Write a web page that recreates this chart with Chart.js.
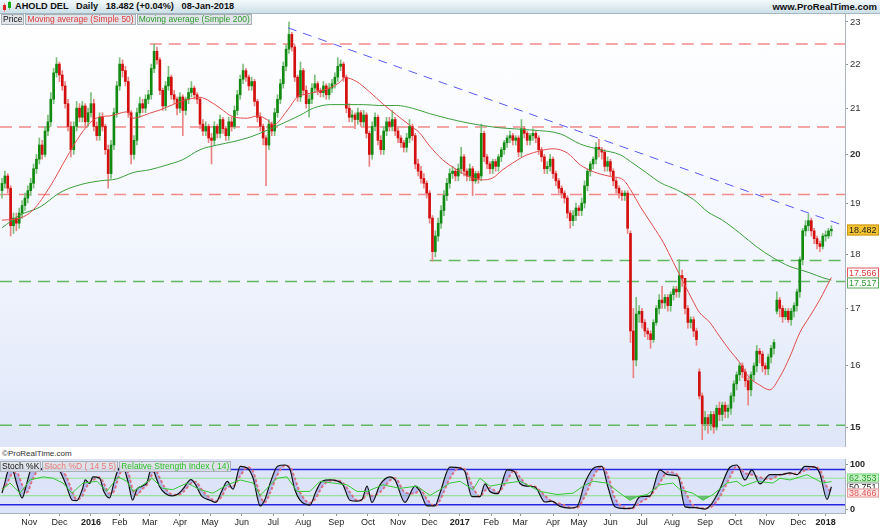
<!DOCTYPE html>
<html><head><meta charset="utf-8">
<script src="https://cdn.jsdelivr.net/npm/chart.js@4.4.1/dist/chart.umd.min.js"></script>
<style>
html,body{margin:0;padding:0}
body{width:880px;height:529px;overflow:hidden;background:#fff;position:relative;font-family:"Liberation Sans",Arial,sans-serif;color:#111}
.a{position:absolute}
#hdr{left:0;top:0;width:880px;height:13px;background:linear-gradient(#f3f9fb,#cde0e8);border-bottom:1px solid #a3b7c2}
#title{left:15px;top:1px;font-size:9.2px;font-weight:bold;line-height:11px;white-space:pre}
#site{right:3px;top:1px;font-size:9.5px;font-weight:bold;line-height:11px}
#pbg{left:0;top:14px;width:845px;height:433px;background:linear-gradient(#ffffff 0%,#f4f7fe 50%,#dee6f8 100%)}
#sbg{left:0;top:459px;width:845px;height:54px;background:#dde4f9}
.leg{position:absolute;display:flex;font-size:8.5px;line-height:9px;z-index:5}
.leg span{background:rgba(222,226,230,0.92);border:1px solid #a8b0b8;padding:0 1px;margin-right:1px;white-space:pre}
#copy{left:2px;top:449px;font-size:8px;color:#333;line-height:9px}
canvas{position:absolute;left:0}
</style></head>
<body>
<div id="hdr" class="a"></div>
<div class="a" style="left:4px;top:3px;width:1px;height:9px;background:#e88"></div>
<div class="a" style="left:3px;top:5px;width:3px;height:5px;background:#d22"></div>
<div class="a" style="left:9px;top:1px;width:1px;height:9px;background:#7c7"></div>
<div class="a" style="left:8px;top:2px;width:3px;height:6px;background:#1a1"></div>
<div id="title" class="a">AHOLD DEL   Daily   18.482 (+0.04%)   08-Jan-2018</div>
<div id="site" class="a">www.ProRealTime.com</div>
<div id="pbg" class="a"></div>
<div id="sbg" class="a"></div>
<canvas id="pc" width="880" height="433" style="top:14px"></canvas>
<canvas id="sc" width="880" height="70" style="top:459px"></canvas>
<div class="leg" style="left:1px;top:14px"><span style="color:#111">Price</span><span style="color:#e03a3a">Moving average (Simple 50)</span><span style="color:#2f9a2f">Moving average (Simple 200)</span></div>
<div id="copy" class="a">©ProRealTime.com</div>
<div class="leg" style="left:0px;top:461px"><span style="color:#111">Stoch %K</span><span style="color:#e87a7a">Stoch %D ( 14 5 5)</span><span style="color:#2bc02b">Relative Strength Index ( 14)</span></div>
<script>
const F = '"Liberation Sans", Arial, sans-serif';
const XMIN = -1.4, XMAX = 587.5;
const DAYS_PER_CANDLE = 2;

const opens = [
19.25,19.40,19.55,19.30,18.55,18.70,18.60,18.80,18.95,19.10,
19.25,19.40,19.70,19.90,20.20,20.00,20.50,20.70,21.20,21.80,
22.00,21.75,21.50,21.10,20.60,20.10,20.60,21.00,20.80,21.05,
20.70,20.90,21.10,20.60,20.40,20.80,20.60,20.10,19.60,20.20,
20.90,21.50,22.00,21.85,21.60,20.90,20.00,20.30,20.90,21.10,
21.00,21.20,21.30,21.90,22.30,22.10,21.40,21.05,21.50,21.70,
21.30,21.20,21.00,21.25,20.95,21.20,21.35,21.45,21.30,21.20,
20.65,20.50,20.60,20.35,20.30,20.60,20.45,20.75,20.55,20.40,
20.70,20.60,20.95,21.30,21.65,21.85,21.70,21.50,21.60,21.15,
20.80,20.60,20.35,20.20,20.65,20.50,20.90,21.20,21.55,21.95,
22.35,22.70,22.40,21.70,21.25,21.85,21.40,21.10,21.20,21.45,
21.55,21.40,21.35,21.50,21.30,21.45,21.55,21.70,21.95,22.00,
21.70,21.00,20.80,20.85,20.75,20.90,20.70,20.85,20.45,20.00,
20.60,20.80,20.30,20.10,20.50,20.70,20.60,20.75,20.50,20.35,
20.25,20.15,20.35,20.60,20.40,19.80,19.65,19.50,19.40,19.20,
18.70,18.05,18.35,18.60,18.85,19.15,19.40,19.60,19.65,19.55,
19.70,19.95,19.65,19.55,19.70,19.45,19.60,19.55,20.45,19.95,
19.80,19.70,19.85,19.75,19.95,20.10,20.25,20.35,20.40,20.30,
20.35,20.05,20.55,20.45,20.30,20.40,20.45,20.35,20.10,19.95,
19.70,19.75,19.90,19.60,19.45,19.30,19.20,19.10,18.80,18.65,
18.75,18.90,18.85,19.00,19.35,19.65,19.80,19.90,20.15,20.10,
20.05,19.75,19.85,19.65,19.45,19.30,19.20,19.15,19.20,18.40,
16.60,16.10,16.90,16.95,16.75,16.60,16.55,16.45,16.75,17.00,
17.15,17.10,17.20,17.05,17.25,17.35,17.30,17.60,17.55,17.00,
16.75,16.80,16.60,15.90,15.50,15.05,15.15,15.05,15.20,15.00,
15.30,15.20,15.35,15.25,15.30,15.50,15.70,15.85,16.00,15.90,
15.75,15.60,15.85,16.00,16.25,16.20,16.00,15.95,16.15,16.30,
16.95,17.15,17.00,16.85,16.95,16.80,16.95,17.05,17.30,17.90,
18.45,18.55,18.65,18.45,18.30,18.20,18.15,18.35,18.35,18.45];

const highs = [
19.50,19.65,19.60,19.35,18.80,18.80,18.90,19.05,19.20,19.35,
19.50,19.80,20.00,20.35,20.30,20.60,20.85,21.35,21.90,22.15,
22.05,21.85,21.60,21.20,20.70,20.70,21.15,21.10,21.15,21.10,
21.00,21.35,21.20,20.70,20.90,20.90,20.65,20.20,20.30,21.00,
21.60,22.15,22.10,21.95,21.70,20.95,20.40,21.00,21.25,21.20,
21.30,21.40,22.00,22.47,22.40,22.15,21.45,21.60,21.95,21.75,
21.40,21.25,21.35,21.30,21.25,21.45,21.60,21.50,21.35,21.25,
20.75,20.70,20.65,20.45,20.70,20.65,20.85,20.80,20.60,20.80,
20.80,21.05,21.40,21.75,22.00,21.90,21.75,21.70,21.65,21.20,
20.90,20.65,20.40,20.75,20.70,21.00,21.30,21.65,22.05,22.45,
23.00,22.75,22.45,21.75,22.05,21.90,21.50,21.30,21.55,21.75,
21.60,21.45,21.60,21.55,21.55,21.65,21.80,22.15,22.10,22.05,
21.75,21.10,20.95,20.90,21.00,20.95,20.95,20.90,20.50,20.70,
20.90,20.85,20.40,20.60,20.80,20.80,20.95,20.80,20.60,20.40,
20.30,20.45,20.75,20.65,20.45,19.90,19.75,19.60,19.45,19.25,
18.75,18.45,18.70,18.95,19.25,19.50,19.70,19.75,19.70,19.80,
20.15,20.00,19.70,19.80,19.75,19.65,19.65,20.65,20.50,20.00,
19.85,19.90,19.90,20.00,20.15,20.30,20.40,20.50,20.45,20.40,
20.40,20.75,20.60,20.50,20.45,20.55,20.50,20.40,20.15,20.00,
19.85,20.00,19.95,19.65,19.50,19.35,19.25,19.15,18.85,18.85,
19.00,18.95,19.10,19.45,19.70,19.85,19.95,20.25,20.32,20.15,
20.10,19.95,19.90,19.70,19.50,19.35,19.25,19.25,19.25,18.45,
17.00,17.20,17.05,17.00,16.80,16.65,16.60,16.80,17.05,17.25,
17.40,17.25,17.25,17.30,17.40,17.40,17.90,17.70,17.55,17.05,
16.85,16.85,16.65,15.95,15.55,15.25,15.20,15.25,15.25,15.35,
15.40,15.40,15.40,15.35,15.55,15.75,15.90,16.05,16.05,15.95,
15.80,15.90,16.05,16.35,16.30,16.25,16.05,16.20,16.35,16.45,
17.30,17.20,17.05,17.00,17.00,17.00,17.10,17.35,17.95,18.50,
18.65,18.78,18.70,18.50,18.35,18.25,18.40,18.45,18.50,18.55];

const lows = [
19.10,19.30,19.20,18.35,18.40,18.45,18.50,18.70,18.85,19.00,
19.15,19.30,19.60,19.80,19.90,19.95,20.40,20.60,21.10,21.70,
21.60,21.40,21.00,20.50,19.95,20.00,20.50,20.70,20.70,20.60,
20.60,20.80,20.50,20.30,20.30,20.50,20.00,19.30,19.50,20.10,
20.80,21.40,21.70,21.50,20.80,19.80,19.90,20.20,20.80,20.90,
20.90,21.10,21.20,21.80,22.00,21.30,20.95,20.95,21.40,21.20,
21.10,20.85,20.90,20.40,20.85,21.10,21.25,21.20,21.10,20.55,
20.40,20.40,20.25,19.80,20.20,20.35,20.35,20.45,20.30,20.30,
20.50,20.55,20.85,21.20,21.55,21.60,21.40,21.40,21.05,20.70,
20.50,20.20,19.35,20.10,20.40,20.40,20.80,21.10,21.45,21.85,
22.25,22.30,21.60,21.15,21.15,21.30,21.00,20.80,21.10,21.35,
21.30,21.25,21.25,21.20,21.20,21.35,21.45,21.60,21.85,21.60,
20.90,20.70,20.70,20.55,20.65,20.60,20.60,20.35,19.75,19.90,
20.50,20.20,20.00,20.00,20.40,20.50,20.50,20.40,20.25,20.15,
20.05,20.05,20.25,20.30,19.70,19.55,19.40,19.30,19.10,18.60,
17.87,17.95,18.25,18.50,18.75,19.05,19.30,19.50,19.45,19.45,
19.60,19.55,19.45,19.45,19.15,19.40,19.40,19.45,19.85,19.70,
19.60,19.60,19.65,19.65,19.85,20.00,20.15,20.25,20.20,20.20,
19.95,19.95,20.35,20.20,20.20,20.30,20.25,20.00,19.85,19.60,
19.60,19.65,19.50,19.35,19.20,19.10,19.00,18.70,18.50,18.55,
18.65,18.75,18.75,18.90,19.25,19.55,19.70,19.80,19.95,19.90,
19.65,19.65,19.55,19.35,19.20,19.10,19.05,19.05,18.40,16.40,
15.80,16.00,16.75,16.65,16.50,16.45,16.30,16.40,16.70,16.90,
17.00,17.00,16.95,16.95,17.15,17.20,17.20,17.40,16.90,16.65,
16.65,16.50,16.35,15.45,14.80,14.95,14.90,14.95,14.90,14.95,
15.10,15.10,15.15,15.15,15.20,15.40,15.60,15.75,15.80,15.65,
15.35,15.50,15.75,15.90,16.05,15.90,15.85,15.85,16.05,16.20,
16.90,16.85,16.75,16.80,16.75,16.70,16.85,16.95,17.20,17.80,
18.35,18.45,18.35,18.20,18.10,18.05,18.10,18.25,18.30,18.35];

const closes = [
19.40,19.55,19.30,18.55,18.70,18.60,18.80,18.95,19.10,19.25,
19.40,19.70,19.90,20.20,20.00,20.50,20.70,21.20,21.80,22.00,
21.75,21.50,21.10,20.60,20.10,20.60,21.00,20.80,21.05,20.70,
20.90,21.10,20.60,20.40,20.80,20.60,20.10,19.60,20.20,20.90,
21.50,22.00,21.85,21.60,20.90,20.00,20.30,20.90,21.10,21.00,
21.20,21.30,21.90,22.30,22.10,21.40,21.05,21.50,21.70,21.30,
21.20,21.00,21.25,20.95,21.20,21.35,21.45,21.30,21.20,20.65,
20.50,20.60,20.35,20.30,20.60,20.45,20.75,20.55,20.40,20.70,
20.60,20.95,21.30,21.65,21.85,21.70,21.50,21.60,21.15,20.80,
20.60,20.35,20.20,20.65,20.50,20.90,21.20,21.55,21.95,22.35,
22.70,22.40,21.70,21.25,21.85,21.40,21.10,21.20,21.45,21.55,
21.40,21.35,21.50,21.30,21.45,21.55,21.70,21.95,22.00,21.70,
21.00,20.80,20.85,20.75,20.90,20.70,20.85,20.45,20.00,20.60,
20.80,20.30,20.10,20.50,20.70,20.60,20.75,20.50,20.35,20.25,
20.15,20.35,20.60,20.40,19.80,19.65,19.50,19.40,19.20,18.70,
18.05,18.35,18.60,18.85,19.15,19.40,19.60,19.65,19.55,19.70,
19.95,19.65,19.55,19.70,19.45,19.60,19.50,20.45,19.95,19.80,
19.70,19.85,19.75,19.95,20.10,20.25,20.35,20.40,20.30,20.35,
20.05,20.55,20.45,20.30,20.40,20.45,20.35,20.10,19.95,19.70,
19.75,19.90,19.60,19.45,19.30,19.20,19.10,18.80,18.65,18.75,
18.90,18.85,19.00,19.35,19.65,19.80,19.90,20.15,20.10,20.05,
19.75,19.85,19.65,19.45,19.30,19.20,19.15,19.20,18.50,16.60,
16.10,16.90,16.95,16.75,16.60,16.55,16.45,16.75,17.00,17.15,
17.10,17.20,17.05,17.25,17.35,17.30,17.60,17.55,17.00,16.75,
16.80,16.60,16.45,15.50,15.05,15.15,15.05,15.20,15.00,15.30,
15.20,15.35,15.25,15.30,15.50,15.70,15.85,16.00,15.90,15.75,
15.60,15.85,16.00,16.25,16.20,16.00,15.95,16.15,16.30,16.40,
17.15,17.00,16.85,16.95,16.80,16.95,17.05,17.30,17.90,18.45,
18.55,18.65,18.45,18.30,18.20,18.15,18.35,18.35,18.45,18.482];

const ma50 = [[0,18.66],[12.5,18.70],[21.6,18.86],[33.4,19.33],[45.3,19.95],[52.3,20.31],[61.3,20.68],[68.3,20.81],[75.3,20.83],[82.2,20.89],[87.1,20.92],[91.3,20.78],[96.2,20.81],[103,20.89],[110,20.96],[119,21.08],[129,21.19],[138,21.24],[145,21.15],[152,21.00],[161,20.81],[171,20.78],[178,20.83],[185,20.74],[189,20.63],[199,20.96],[206,21.26],[210,21.30],[220,21.37],[229,21.46],[236,21.60],[239,21.69],[247,21.60],[256,21.37],[266,21.08],[275,20.85],[284,20.63],[291,20.46],[298,20.18],[307,19.89],[317,19.68],[326,19.53],[335,19.47],[342,19.51],[349,19.68],[356,19.82],[363,19.95],[373,20.06],[384,20.12],[394,20.03],[403,19.78],[412,19.64],[424,19.54],[433,19.47],[438,19.27],[445,18.92],[454,18.53],[461,18.22],[468,17.84],[475,17.47],[482,17.11],[486,16.93],[493,16.76],[500,16.51],[507,16.27],[514,16.06],[521,15.80],[528,15.68],[535,15.60],[542,15.81],[549,16.15],[556,16.57],[563,16.86],[570,17.16],[578,17.566]];
const ma200 = [[0,18.51],[12.5,18.76],[26.5,18.92],[40.4,19.21],[54.4,19.37],[68.3,19.45],[80,19.49],[91.3,19.62],[103,19.68],[115,19.78],[126,19.89],[138,20.10],[150,20.20],[161,20.27],[173,20.37],[185,20.52],[196,20.67],[208,20.85],[217,21.00],[229,21.08],[240,21.08],[252,21.08],[263,21.06],[275,21.06],[286,21.00],[298,20.88],[324,20.68],[347,20.57],[370,20.52],[389,20.44],[403,20.22],[417,20.10],[431,19.99],[438,19.85],[449,19.62],[459,19.41],[470,19.27],[482,19.07],[492,18.82],[502,18.66],[514,18.41],[526,18.14],[537,17.94],[549,17.77],[556,17.71],[563,17.65],[572,17.56],[578,17.517]];
const trendLine = [[199.3,22.86],[586,18.56]];
const redLevels = [[22.47,103],[20.59,XMIN],[19.17,XMIN]];
const greenLevels = [[17.88,298],[17.49,XMIN],[15.03,XMIN]];
const priceTicks = [15,16,17,18,19,20,21,22,23];
const lastPrice = 18.482, lastMa50 = 17.566, lastMa200 = 17.517;

const monthTickIdx = [19,40,62,82,103,124,145,167,189,210,233,255,276,298,319,341,361,384,402,424,446,467,490,511,533,555,574];
const monthLabels = ['Nov','Dec','2016','Feb','Mar','Apr','May','Jun','Jul','Aug','Sep','Oct','Nov','Dec','2017','Feb','Mar','Apr','May','Jun','Jul','Aug','Sep','Oct','Nov','Dec','2018'];

const stochK = [[0,36],[2,60],[4.5,88],[7,90],[10.5,55],[14,25],[17.4,60],[21,95],[25,88],[28,92],[32,97],[37,93],[40,88],[44.6,55],[49,20],[52,19],[56,45],[58,66],[61,58],[63.4,73],[68,70],[71,40],[75,25],[78,60],[81,90],[84,97],[88,60],[91,20],[94,45],[97.6,52],[101,60],[104.5,97],[107,75],[110,50],[113.6,36],[118.5,30],[122.6,34],[126,45],[131.7,67],[135,55],[139,30],[145,20],[149,15],[153,40],[157,63],[161,45],[166,97],[171,93],[175,70],[180,7],[183,20],[187,60],[192,97],[197,100],[200.7,90],[204,45],[207.7,20],[214.6,9],[218.8,40],[223,63],[228.6,66],[233.4,64],[237.6,55],[242.5,20],[247.4,18],[251,22],[254.4,52],[257.8,15],[263.4,55],[270.4,73],[273.9,66],[280.8,15],[287.8,52],[291.3,40],[296.2,7],[301.7,7],[305.2,36],[312.2,95],[319.2,93],[322.6,85],[327.5,28],[333.1,28],[336.6,57],[340,40],[345.6,35],[352,89],[356.8,86],[361,58],[365.9,52],[371.4,50],[378.4,16],[383.3,18],[388.9,6],[395.8,2],[400.7,5],[406.3,60],[413.2,95],[418.1,97],[422.3,50],[427.2,5],[434.1,1],[439,2],[444.6,28],[451.6,30],[458.5,89],[464,78],[471,75],[476,5],[483,3],[490,0],[494.8,13],[500.3,45],[507.3,95],[512.2,100],[517.8,66],[522.6,89],[528.2,57],[535.2,78],[542.2,78],[549.2,82],[554,78],[559.6,97],[566.6,95],[570,80],[575,22],[578,50.751]];
const stochD = [[0,45],[2,50],[4.5,65],[7,80],[10.5,82],[14,55],[17.4,38],[21,65],[25,88],[28,90],[32,93],[37,95],[40,91],[44.6,75],[49,40],[52,22],[56,30],[58,45],[61,60],[63.4,66],[68,72],[71,58],[75,35],[78,40],[81,70],[84,90],[88,82],[91,45],[94,32],[97.6,45],[101,55],[104.5,78],[107,88],[110,70],[113.6,48],[118.5,33],[122.6,32],[126,38],[131.7,58],[135,62],[139,45],[145,25],[149,18],[153,28],[157,50],[161,52],[166,75],[171,95],[175,85],[180,30],[183,15],[187,38],[192,78],[197,98],[200.7,96],[204,70],[207.7,38],[214.6,14],[218.8,25],[223,50],[228.6,64],[233.4,65],[237.6,60],[242.5,38],[247.4,20],[251,20],[254.4,35],[257.8,30],[263.4,38],[270.4,65],[273.9,70],[280.8,38],[287.8,35],[291.3,45],[296.2,22],[301.7,7],[305.2,20],[312.2,70],[319.2,94],[322.6,90],[327.5,55],[333.1,28],[336.6,42],[340,48],[345.6,38],[352,65],[356.8,87],[361,72],[365.9,55],[371.4,51],[378.4,30],[383.3,17],[388.9,12],[395.8,4],[400.7,3],[406.3,30],[413.2,80],[418.1,96],[422.3,75],[427.2,25],[434.1,3],[439,1],[444.6,15],[451.6,29],[458.5,60],[464,84],[471,77],[476,40],[483,5],[490,2],[494.8,6],[500.3,28],[507.3,72],[512.2,97],[517.8,82],[522.6,78],[528.2,72],[535.2,68],[542.2,78],[549.2,80],[554,80],[559.6,88],[566.6,96],[570,88],[575,50],[578,38.466]];
const rsi = [[0,44],[5.6,59],[12.5,36],[19.5,66],[28.6,73],[35.5,70],[42.5,59],[48.8,36],[56.4,59],[66.2,63],[73,40],[80.8,73],[87,63],[91.3,40],[98.3,55],[104.5,70],[112,47],[119,44],[129,59],[138,44],[147,36],[157,55],[166,66],[175,59],[180,31],[184.7,47],[191.6,70],[198.6,73],[205.6,40],[214.6,40],[221.6,63],[230.7,59],[240.4,55],[247.4,40],[254.4,40],[265.5,55],[277.4,47],[289.2,52],[298.3,31],[305.2,44],[312.2,59],[319.2,63],[328.2,44],[333.1,70],[340,52],[352,59],[361,63],[365.9,55],[374.9,40],[386.8,33],[398,36],[405,52],[412,63],[421.6,59],[430.7,36],[437.6,20],[442.5,28],[449.5,33],[458.5,55],[467.6,59],[472.5,44],[481.5,36],[488.5,20],[495.5,33],[505.2,59],[512.2,63],[516.4,52],[526,63],[537.3,59],[542.2,70],[549.2,66],[561,78],[568,66],[572,59],[578,62.353]];
const stochBlueLevels = [90,10];
const stochGreenLevels = [70,30];
const lastK = 50.751, lastD = 38.466, lastRsi = 62.353;

Chart.defaults.font.family = F;
const xy = a => a.map(p => ({x: p[0], y: p[1]}));
const isUp = closes.map((c, i) => c >= opens[i]);

const boxPlugin = {
  id: 'boxes',
  afterDraw(chart, args, opts) {
    const ctx = chart.ctx, ys = chart.scales.y;
    (opts.items || []).forEach(b => {
      const yc = Math.round(ys.getPixelForValue(b.value) + b.shift);
      const h = opts.h;
      ctx.save();
      ctx.fillStyle = b.bg; ctx.fillRect(847, yc - h/2, 32, h);
      ctx.strokeStyle = b.border; ctx.lineWidth = 1; ctx.strokeRect(847.5, yc - h/2 + 0.5, 31, h - 1);
      ctx.fillStyle = b.color; ctx.font = opts.font; ctx.textAlign = 'left'; ctx.textBaseline = 'middle';
      ctx.fillText(b.text, 849, yc + 0.5);
      ctx.restore();
    });
  }
};

const levelSet = (arr, color) => arr.map(l => ({type: 'line', data: [{x: l[1], y: l[0]}, {x: XMAX, y: l[0]}], borderColor: color, borderDash: [12, 7], borderWidth: 1.5, pointRadius: 0, order: 4}));

new Chart(document.getElementById('pc'), {
  type: 'bar',
  data: { datasets: [
    {type: 'line', data: xy(ma50), borderColor: '#e24c4c', borderWidth: 1, pointRadius: 0, cubicInterpolationMode: 'monotone', order: 0},
    {type: 'line', data: xy(ma200), borderColor: '#3d9f3d', borderWidth: 1, pointRadius: 0, cubicInterpolationMode: 'monotone', order: 0},
    {type: 'line', data: xy(trendLine), borderColor: '#5a5af5', borderDash: [9, 7], borderWidth: 1, pointRadius: 0, order: 0},
    ...levelSet(redLevels, '#f28a8a'),
    ...levelSet(greenLevels, '#62b862'),
    {type: 'bar', data: closes.map((c, i) => ({x: i * DAYS_PER_CANDLE, y: [lows[i], highs[i]]})), backgroundColor: isUp.map(u => u ? '#7cbf7c' : '#ea8484'), barThickness: 1, grouped: false, order: 2},
    {type: 'bar', data: closes.map((c, i) => ({x: i * DAYS_PER_CANDLE, y: [Math.min(opens[i], c), Math.max(opens[i], c)]})), backgroundColor: isUp.map(u => u ? '#128a12' : '#d30f0f'), barThickness: 2, minBarLength: 1, grouped: false, order: 1}
  ]},
  options: {
    responsive: false, animation: false, devicePixelRatio: 1,
    layout: {padding: 0},
    plugins: {legend: {display: false}, tooltip: {enabled: false},
      boxes: {h: 11, font: '9px ' + F, items: [
        {value: lastPrice, shift: 1, text: lastPrice.toFixed(3), bg: '#f5c431', border: '#c9971b', color: '#222'},
        {value: lastMa50, shift: -4.5, text: lastMa50.toFixed(3), bg: '#ffffff', border: '#e25a5a', color: '#e03c3c'},
        {value: lastMa200, shift: 3, text: lastMa200.toFixed(3), bg: '#ffffff', border: '#5aaa5a', color: '#2f9a2f'}
      ]}},
    scales: {
      x: {type: 'linear', min: XMIN, max: XMAX, offset: false, display: false},
      y: {type: 'logarithmic', position: 'right', min: 14.687, max: 23.195, bounds: 'data',
        afterBuildTicks: s => { s.ticks = priceTicks.map(v => ({value: v})); },
        afterFit: s => { s.width = 35; s.paddingTop = 0; s.paddingBottom = 0; },
        ticks: {callback: v => String(v), color: '#333', padding: 2,
          font: c => ({family: F, size: 9.5, weight: (c.tick && c.tick.value % 5 === 0) ? 'bold' : 'normal'})},
        grid: {drawOnChartArea: false, tickLength: 3, color: '#8a949c'},
        border: {display: true, color: '#aab4bd'}
      }
    }
  },
  plugins: [boxPlugin]
});

const hLine = (v, color, w) => ({data: [{x: XMIN, y: v}, {x: XMAX, y: v}], borderColor: color, borderWidth: w, pointRadius: 0, fill: false, order: 5});

new Chart(document.getElementById('sc'), {
  type: 'line',
  data: { datasets: [
    {data: xy(stochK), borderColor: '#111111', borderWidth: 1.2, pointRadius: 0, cubicInterpolationMode: 'monotone',
      fill: {target: 1, above: 'rgba(100,100,230,0.32)', below: 'rgba(100,100,230,0.32)'}, order: 1},
    {data: xy(stochD), borderColor: '#ec7878', borderWidth: 2, borderDash: [3, 2], pointRadius: 0, cubicInterpolationMode: 'monotone', fill: false, order: 2},
    {data: xy(rsi), borderColor: '#36c836', borderWidth: 1, pointRadius: 0, tension: 0,
      fill: {target: {value: 30}, above: 'rgba(0,0,0,0)', below: 'rgba(40,160,40,0.6)'}, order: 0},
    ...stochBlueLevels.map(v => hLine(v, '#2626e0', 1.5)),
    ...stochGreenLevels.map(v => hLine(v, '#92e692', 1))
  ]},
  options: {
    responsive: false, animation: false, devicePixelRatio: 1,
    layout: {padding: 0},
    plugins: {legend: {display: false}, tooltip: {enabled: false},
      boxes: {h: 9, font: '9px ' + F, items: [
        {value: lastRsi, shift: -3.5, text: lastRsi.toFixed(3), bg: '#c9f3c9', border: '#80d880', color: '#2a9a2a'},
        {value: lastK, shift: 0, text: lastK.toFixed(3), bg: '#ffffff', border: '#9a9a9a', color: '#222'},
        {value: lastD, shift: 1, text: lastD.toFixed(3), bg: '#fde6e6', border: '#e89a9a', color: '#e05a5a'}
      ]}},
    scales: {
      x: {type: 'linear', min: XMIN, max: XMAX, offset: false, position: 'bottom',
        afterBuildTicks: s => { s.ticks = monthTickIdx.map(v => ({value: v})); },
        afterFit: s => { s.height = 16; s.paddingLeft = 0; s.paddingRight = 0; },
        ticks: {autoSkip: false, maxRotation: 0, minRotation: 0, padding: 1, color: '#222',
          callback: (v, i) => monthLabels[i],
          font: c => ({family: F, size: 9, weight: /^\d{4}$/.test(monthLabels[c.index] || '') ? 'bold' : 'normal'})},
        grid: {drawOnChartArea: false, tickLength: 3, color: '#8a949c'},
        border: {display: true, color: '#aab4bd'}
      },
      y: {type: 'linear', position: 'right', min: -9, max: 113.6,
        afterBuildTicks: s => { s.ticks = [{value: 0}, {value: 100}]; },
        afterFit: s => { s.width = 35; s.paddingTop = 0; s.paddingBottom = 0; },
        ticks: {color: '#222', padding: 2, font: {family: F, size: 9, weight: 'bold'}},
        grid: {drawOnChartArea: false, tickLength: 3, color: '#8a949c'},
        border: {display: true, color: '#aab4bd'}
      }
    }
  },
  plugins: [boxPlugin]
});
</script>
</body></html>
